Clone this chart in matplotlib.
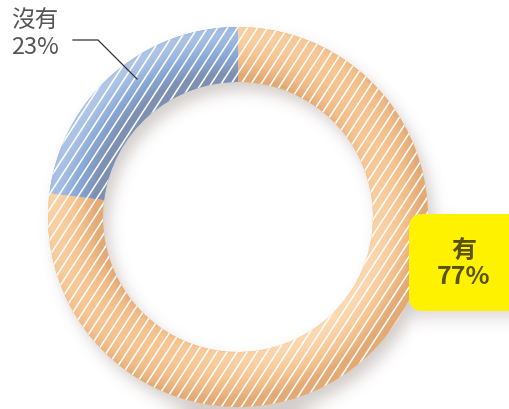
import numpy as np
import matplotlib
matplotlib.use("Agg")
import matplotlib.pyplot as plt
from matplotlib.patches import FancyBboxPatch
from matplotlib.collections import LineCollection
from matplotlib.colors import to_rgb

plt.rcParams['font.family'] = ['Noto Sans CJK TC', 'DejaVu Sans']

labels = ["沒有", "有"]
values = [23, 77]
colors = ["#88a8d8", "#f6c490"]
light_colors = ["#b6cbea", "#fddcb6"]
dark_colors = ["#7d90b2", "#e3aa76"]

W, H = 510, 410
cx, cy = 238, H - 218   # centre in data coords (y up)
r_out, ring_w = 190, 55
r_in = r_out - ring_w

fig = plt.figure(figsize=(W / 100, H / 100), dpi=100)
ax = fig.add_axes([0, 0, 1, 1])

# pixel grid (screen coords, y down)
px, py = np.meshgrid(np.arange(W) + 0.5, np.arange(H) + 0.5)
def ring_mask(dx, dy):
    rr = np.hypot(px - cx - dx, py - (H - cy) - dy)
    return ((rr <= r_out) & (rr >= r_in)).astype(float)

def blur(m, sigma):
    def kmat(n):
        i = np.arange(n)
        k = np.exp(-0.5 * ((i[:, None] - i[None, :]) / sigma) ** 2)
        return k / k.sum(axis=1, keepdims=True)
    return kmat(m.shape[0]) @ m @ kmat(m.shape[1]).T

# soft drop shadow
sh = ring_mask(6, 9)
box_x0, box_y0, box_x1, box_y1 = 409, 215, 530, 312
sh = np.maximum(sh, ((px >= box_x0 + 5) & (px <= box_x1) & (py >= box_y0 + 8) & (py <= box_y1 + 8)).astype(float) * 0.7)
sh = blur(sh, 7)
shadow = np.zeros((H, W, 4))
shadow[..., :3] = np.array([0.55, 0.5, 0.47])
shadow[..., 3] = np.clip(sh * 0.38, 0, 1)
ax.imshow(shadow, extent=(0, W, 0, H), origin='upper', zorder=0, interpolation='bilinear')

wedges, _ = ax.pie(values, colors=colors, startangle=90, counterclock=True,
                   radius=r_out, center=(cx, cy),
                   wedgeprops=dict(width=ring_w, linewidth=0))

# tube-like shading, light from the top left
dxs = px - cx
dys = py - (H - cy)
rr = np.hypot(dxs, dys) + 1e-9
s = np.clip((rr - (r_in + r_out) / 2) / (ring_w / 2), -1, 1)
nx, ny, nz = s * dxs / rr, s * dys / rr, np.sqrt(1 - s ** 2)
L = np.array([-0.6, -0.6, 0.45])
L = L / np.linalg.norm(L)
d = nx * L[0] + ny * L[1] + nz * L[2]
inten = np.clip((d - L[2]) / 0.6, -1, 1)[..., None]

for w, c, lc, dc in zip(wedges, colors, light_colors, dark_colors):
    base, lig, dar = np.array(to_rgb(c)), np.array(to_rgb(lc)), np.array(to_rgb(dc))
    img = np.where(inten > 0, base + inten * (lig - base), base - inten * (dar - base))
    im = ax.imshow(np.clip(img, 0, 1), extent=(0, W, 0, H), origin='upper', zorder=1.5, interpolation='bilinear')
    im.set_clip_path(w)
    # white diagonal stripes
    ang = np.deg2rad(57)
    segs = []
    for x0 in np.arange(-400, 800, 10):
        segs.append([(x0, 0), (x0 + 500 / np.tan(ang), 500)])
    lc_ = LineCollection(segs, colors='white', linewidths=1.1, zorder=2)
    ax.add_collection(lc_)
    lc_.set_clip_path(w)

# label for 沒有
ax.text(11, H - 10, "沒有\n23%", ha='left', va='top', fontsize=17, color='#555555', linespacing=1.15)
ax.plot([73, 98, 137], [H - 41, H - 41, H - 80], color='#333333', lw=0.9, zorder=3)

# yellow callout for 有
box = FancyBboxPatch((box_x0, H - box_y1), box_x1 - box_x0, box_y1 - box_y0,
                     boxstyle="round,pad=0,rounding_size=14", facecolor='#fff200',
                     edgecolor='none', zorder=3)
ax.add_patch(box)
ax.text(464, H - 264, "有\n77%", ha='center', va='center', fontsize=18, fontweight='bold',
        color='#5a5200', linespacing=1.1, zorder=4)

ax.set_xlim(0, W)
ax.set_ylim(0, H)
ax.set_aspect('auto')
ax.axis('off')
fig.savefig("out.png", dpi=100)
